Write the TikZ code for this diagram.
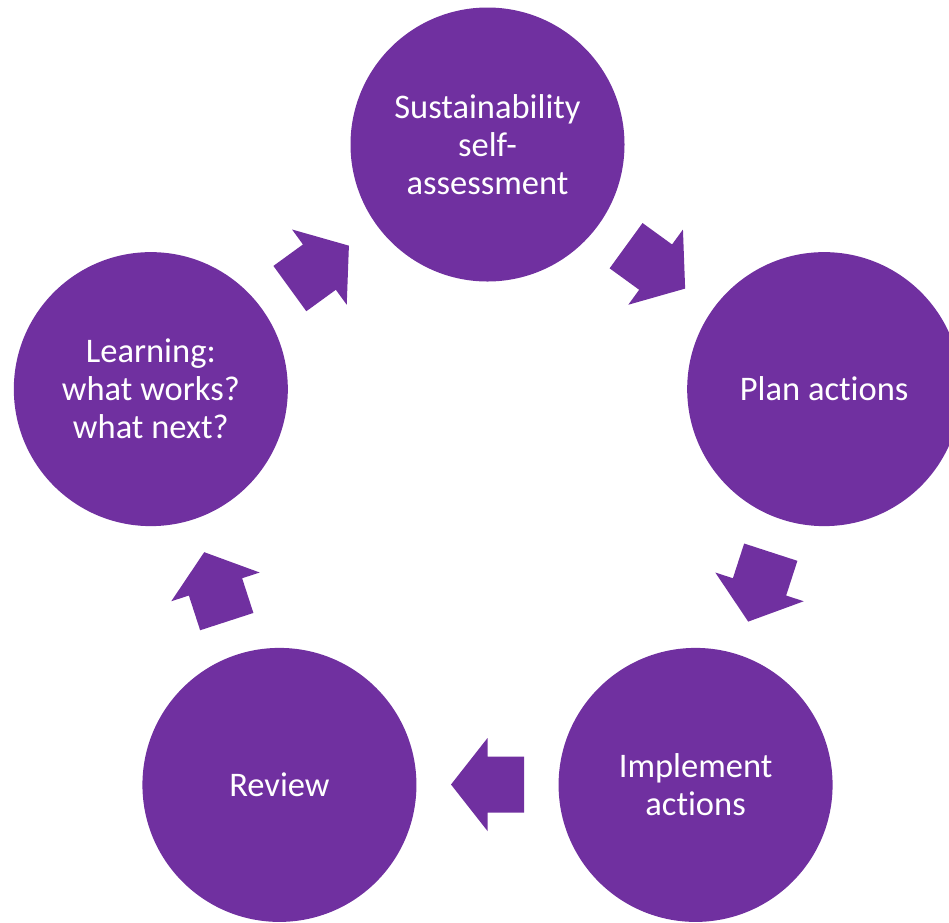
\documentclass[tikz,border=0pt]{standalone}
\usepackage{fontspec}
\setmainfont{Carlito}[Ligatures={NoCommon}]
\definecolor{cyc}{HTML}{7030A0}
\begin{document}
\begin{tikzpicture}[x=1pt,y=1pt,
  cnode/.style={circle,fill=cyc,minimum size=274pt,inner sep=0pt,text=white,
    align=center,font=\fontsize{34.5}{38}\selectfont},
  blockarrow/.style={fill=cyc}]
\useasboundingbox (0,0) rectangle (949,-922);
\coordinate (C) at (487.5,-498.5);
\begin{scope}[shift={(C)}]
\node[cnode] (n1) at (90:354pt) {Sustainability\\self-\\assessment};
\node[cnode] (n2) at (18:354pt) {Plan actions};
\node[cnode] (n3) at (-54:354pt) {Implement\\actions};
\node[cnode] (n4) at (-126:354pt) {Review};
\node[cnode] (n5) at (162:354pt) {Learning:\\what works?\\what next?};
\foreach \a in {54,-18,-90,-162,126}{
  \fill[blockarrow,shift={(\a:286pt)},rotate=\a-90]
    (36.5,0) -- (0,46.5) -- (0,28) -- (-36.5,28) -- (-36.5,-28) -- (0,-28) -- (0,-46.5) -- cycle;
}
\end{scope}
\end{tikzpicture}
\end{document}
